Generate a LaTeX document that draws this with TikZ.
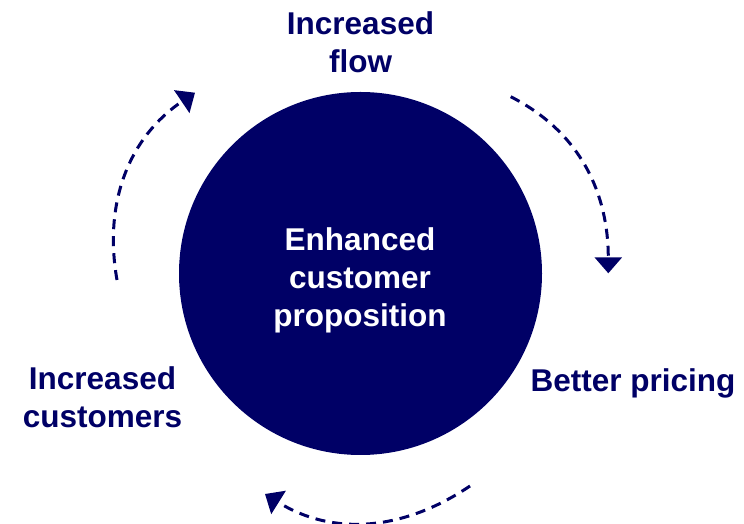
\documentclass[tikz,border=0pt]{standalone}
\usepackage{fontspec}
\setmainfont{Liberation Sans}
\usetikzlibrary{arrows.meta}
\definecolor{navy}{RGB}{0,0,102}
\tikzset{
  lbl/.style={font=\bfseries\fontsize{31.5}{38}\selectfont, text=navy, align=center, inner sep=0pt, anchor=base},
  cyc/.style={draw=navy, line width=3pt, dash pattern=on 10pt off 7pt, -{Triangle[width=27pt,length=16pt]}}
}
\begin{document}
\begin{tikzpicture}[x=1pt,y=1pt]
\useasboundingbox (0,0) rectangle (744,524);
\node[circle, fill=navy, minimum size=363pt, inner sep=0pt] (hub) at (360.5,250.5) {};
\node[lbl, text=white] (core) at (360,197) {Enhanced\\customer\\proposition};
\node[lbl] (flow) at (360.5,451) {Increased\\flow};
\node[lbl] (price) at (633,132) {Better pricing};
\node[lbl] (cust) at (102.5,96) {Increased\\customers};
\coordinate (r1) at (510.7,427.3);
\coordinate (r2) at (608.3,250.7);
\coordinate (b1) at (470,38);
\coordinate (b2) at (265,30);
\coordinate (l1) at (117,244);
\coordinate (l2) at (195,431.3);
\draw[cyc] (r1) to[out=-27,in=90] (r2);
\draw[cyc] (b1) to[out=214,in=-32] (b2);
\draw[cyc] (l1) to[out=100,in=214] (l2);
\end{tikzpicture}
\end{document}
